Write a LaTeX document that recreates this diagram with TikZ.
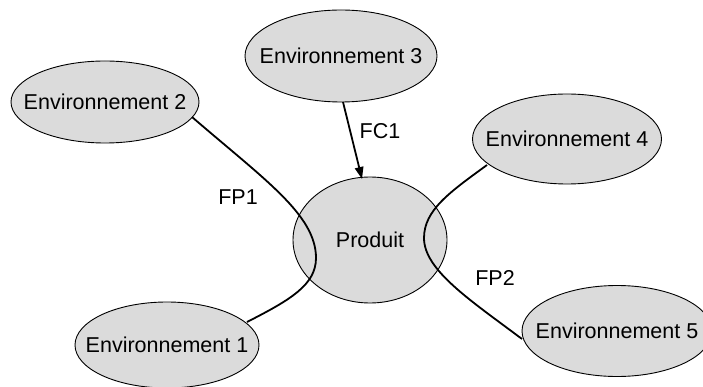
\documentclass[tikz,border=0pt]{standalone}
\usepackage{fontspec}
\setmainfont{Liberation Sans}
\usetikzlibrary{shapes.geometric,arrows.meta}
\begin{document}
\begin{tikzpicture}[x=1pt,y=-1pt,
  envshape/.style={ellipse, draw=black, line width=0.9pt, fill=black!14, inner sep=0pt},
  lbl/.style={inner sep=0pt, font=\fontsize{21.5}{24}\selectfont},
  link/.style={line width=1.8pt}]
\useasboundingbox (0,0) rectangle (703,387);
\clip (0,0) rectangle (703,387);
\fill[white] (0,0) rectangle (703,387);

% ellipse outlines
\node[envshape, minimum width=192, minimum height=92] (e3) at (341,56) {};
\node[envshape, minimum width=188, minimum height=82] (e2) at (105,102) {};
\node[envshape, minimum width=189, minimum height=90] (e4) at (567,139) {};
\node[envshape, minimum width=154, minimum height=126] (p) at (370,240) {};
\node[envshape, minimum width=184, minimum height=86] (e1) at (167,345) {};
\node[envshape, minimum width=190, minimum height=91] (e5) at (617,331) {};

% texts
\node[lbl] (t3) at (e3) {Environnement 3};
\node[lbl] (t2) at (e2) {Environnement 2};
\node[lbl] (t4) at (e4) {Environnement 4};
\node[lbl] (tp) at (p) {Produit};
\node[lbl] (t1) at (e1) {Environnement 1};
\node[lbl] (t5) at (e5) {Environnement 5};

% connection points on the borders
\coordinate (a3) at (343,102);
\coordinate (ap) at (362,179);
\coordinate (s2) at (192,117);
\coordinate (s1) at (247,322);
\coordinate (s4) at (487,165);
\coordinate (s5) at (522,339);
\coordinate (k1) at (316,258);
\coordinate (k2) at (424,238);

% constraint function FC1
\draw[link, -{Triangle[length=12pt,width=8.5pt]}] (a3) -- (ap);
\node[lbl] (fc1) at (380,131) {FC1};

% principal function FP1 : Environnement 2 -> Produit -> Environnement 1
\draw[link] (s2) .. controls (265,180) and (316,215) .. (k1)
             .. controls (316,285) and (290,300) .. (s1);
\node[lbl] (fp1) at (238,197) {FP1};

% principal function FP2 : Environnement 4 -> Produit -> Environnement 5
\draw[link] (s4) .. controls (450,192) and (424,210) .. (k2)
             .. controls (424,270) and (470,300) .. (s5);
\node[lbl] (fp2) at (495,278) {FP2};
\end{tikzpicture}
\end{document}
